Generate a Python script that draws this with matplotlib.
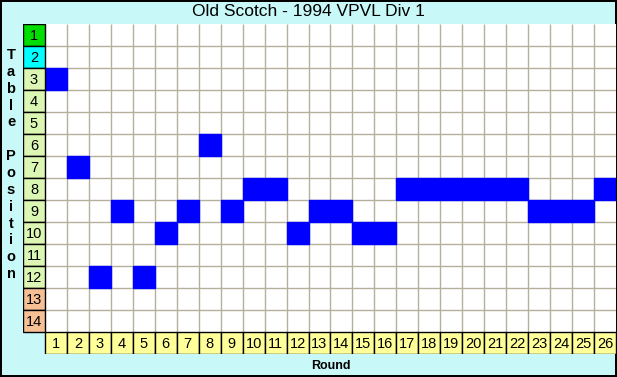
import numpy as np
import matplotlib
matplotlib.use("Agg")
import matplotlib.pyplot as plt

# ---- data ----
title = "Old Scotch - 1994 VPVL Div 1"
rounds = list(range(1, 27))
positions = [3, 7, 12, 9, 12, 10, 9, 6, 9, 8, 8, 10, 9, 9, 10, 10,
             8, 8, 8, 8, 8, 8, 9, 9, 9, 8]
table_rows = list(range(1, 15))
row_colors = ["#00dd00", "#00ffff"] + ["#dcf6b4"] * 10 + ["#f6c094"] * 2
side_label = "Table Position"

# ---- style ----
BG = "#c8f8f8"
GRID = "#b4b09c"
BLUE = "#0000ff"
plt.rcParams["font.family"] = ["Liberation Sans", "DejaVu Sans"]

W, H = 617, 377
fig = plt.figure(figsize=(W / 100, H / 100), dpi=100)
fig.patch.set_facecolor(BG)
fig.patch.set_edgecolor("black")
fig.patch.set_linewidth(1.5)

n_r = len(rounds)
n_p = len(table_rows)
# axes spans label column (x=0) + rounds, rows + round label row
left, right, top, bottom = 23, 616, 24, 354
ax = fig.add_axes([left / W, 1 - bottom / H, (right - left) / W, (bottom - top) / H])
ax.set_xlim(-0.5, n_r + 0.5)
ax.set_ylim(n_p + 1.5, 0.5)
ax.axis("off")

# white grid area
ax.bar((1 + n_r) / 2, n_p, width=n_r, bottom=0.5, color="white", linewidth=0, zorder=1)
# grid lines
ax.vlines(np.arange(1.5, n_r + 0.5), 0.5, n_p + 0.5, color=GRID, lw=1, zorder=2)
ax.hlines(np.arange(1.5, n_p + 0.5), 0.5, n_r + 0.5, color=GRID, lw=1, zorder=2)

# position cells
ax.bar(rounds, 1, width=1, bottom=np.array(positions) - 0.5, color=BLUE,
       edgecolor=BLUE, linewidth=1, zorder=3)

# row labels
ax.bar([0] * n_p, 1, width=1, bottom=np.array(table_rows) - 0.5, color=row_colors,
       edgecolor="black", linewidth=1, zorder=4)
for p in table_rows:
    ax.text(0, p + 0.05, str(p), ha="center", va="center", fontsize=10.5, zorder=5)

# round labels
ax.bar(rounds, 1, width=1, bottom=n_p + 0.5, color="#ffff99", edgecolor="black",
       linewidth=1, zorder=4)
for r in rounds:
    ax.text(r, n_p + 1.05, str(r), ha="center", va="center", fontsize=10.5, zorder=5)

fig.text(0.5, 1 - 12 / H, title, ha="center", va="center", fontsize=12.5)
fig.text((left + 22 + right) / 2 / W, 1 - 366 / H, "Round", ha="center", va="center",
         fontsize=9, fontweight="bold")
for i, ch in enumerate(side_label):
    fig.text(11 / W, 1 - (55 + i * 16.85) / H, ch, ha="center", va="center",
             fontsize=10.5, fontweight="bold")

fig.savefig("out.png", dpi=100, facecolor=fig.get_facecolor(), edgecolor=fig.get_edgecolor())
